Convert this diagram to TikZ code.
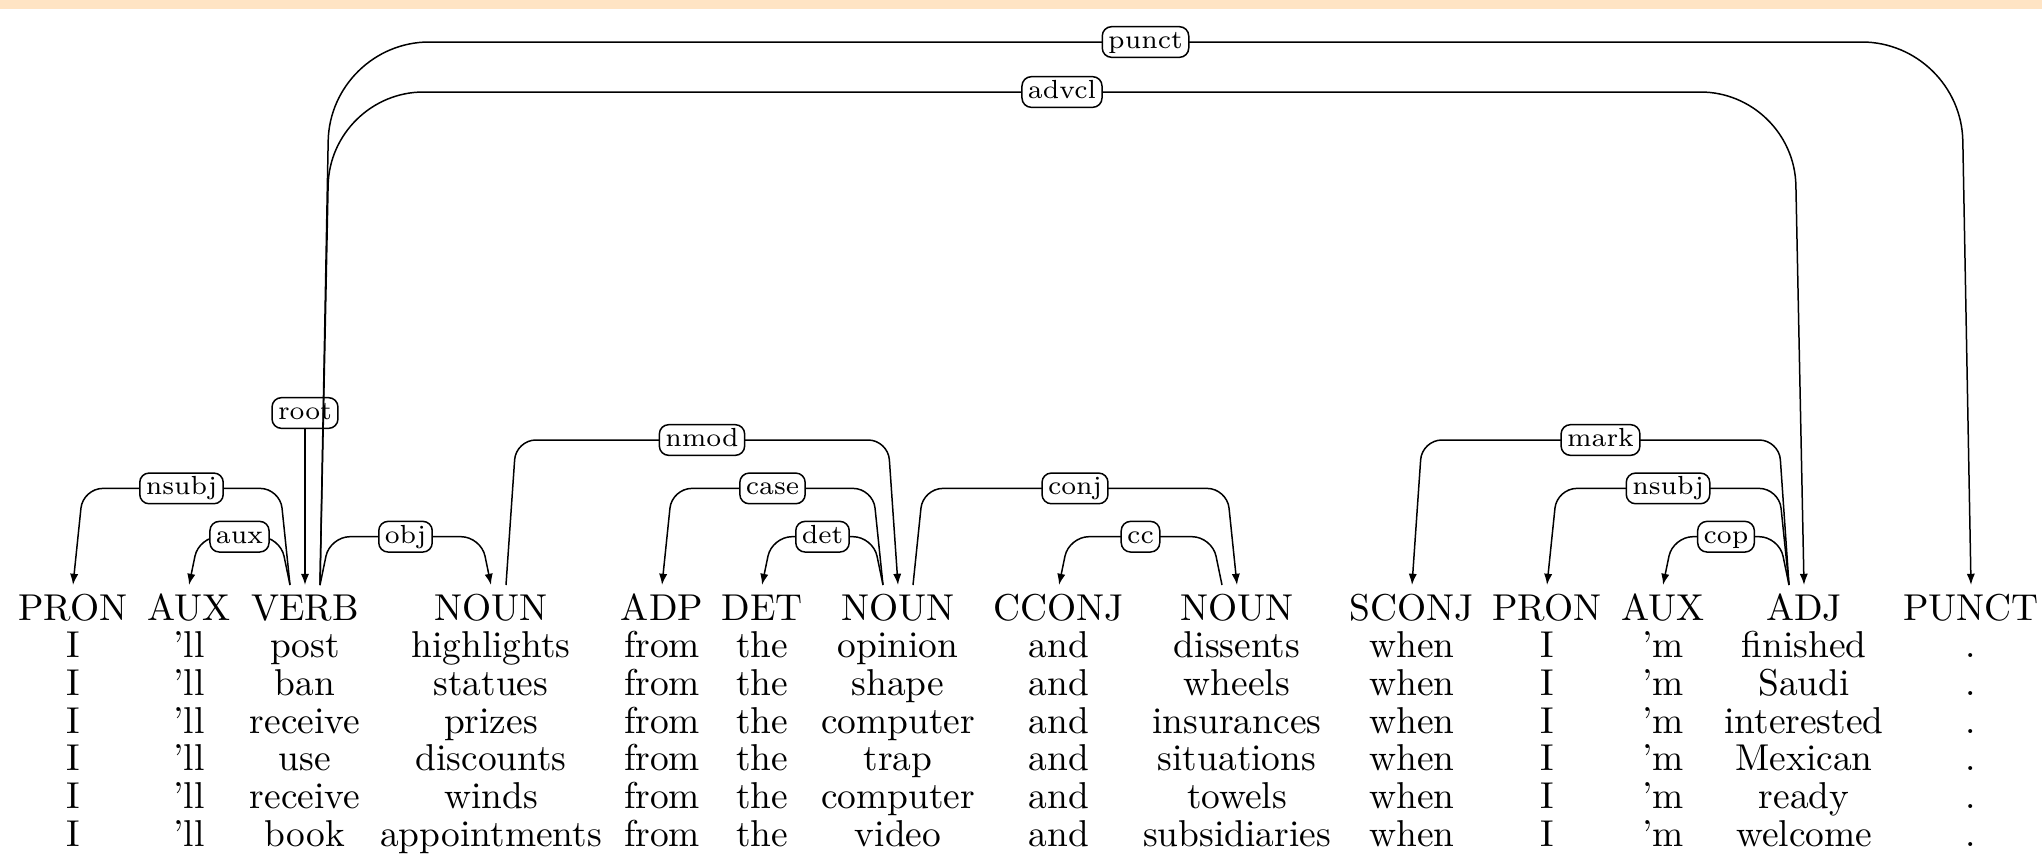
\documentclass[tikz,border=0pt]{standalone}
\usetikzlibrary{calc,arrows.meta}
\definecolor{peach}{RGB}{255,228,196}
\tikzset{
  tag/.style={inner sep=0pt, anchor=base, font=\fontsize{10}{12}\selectfont},
  word/.style={tag},
  lab/.style={draw, fill=white, rounded corners=2.5pt, inner xsep=1.6pt, inner ysep=1pt,
    text height=4.8pt, text depth=1.4pt, font=\scriptsize, line width=0.4pt},
  dedge/.style={line width=0.4pt, -{Latex[length=3pt,width=2.2pt]}},
}
% head, dependent, direction sign, height above tip (px), corner radius, label
\newcommand\mydep[6]{%
  \draw[dedge, rounded corners=#5]
    ($(#1.base)+({(#3)*15},-35)$) --
    ($(#1.base)+({(#3)*25},{-35-#4})$) -- node[lab]{#6}
    ($(#2.base)+({-1*(#3)*10},{-35-#4})$) --
    ($(#2.base)+(0,-35)$);}
\begin{document}
\begin{tikzpicture}[x=0.26738pt, y=-0.26738pt]
\useasboundingbox (0,0) rectangle (2042,854);
\fill[peach] (0,0) rectangle (2042,9);
% tags
\foreach \x/\t [count=\i] in {73/PRON,189/AUX,305/VERB,491/NOUN,662/ADP,762/DET,898/NOUN,
  1059/CCONJ,1237/NOUN,1412/SCONJ,1547/PRON,1663/AUX,1804/ADJ,1971/PUNCT}
  \node[tag] (t\i) at (\x,620) {\t};
% words
\foreach \row [count=\r] in {
  {I,’ll,post,highlights,from,the,opinion,and,dissents,when,I,’m,finished,.},
  {I,’ll,ban,statues,from,the,shape,and,wheels,when,I,’m,Saudi,.},
  {I,’ll,receive,prizes,from,the,computer,and,insurances,when,I,’m,interested,.},
  {I,’ll,use,discounts,from,the,trap,and,situations,when,I,’m,Mexican,.},
  {I,’ll,receive,winds,from,the,computer,and,towels,when,I,’m,ready,.},
  {I,’ll,book,appointments,from,the,video,and,subsidiaries,when,I,’m,welcome,.}}
  \foreach \w [count=\c] in \row
    \node[word] (w\r-\c) at ($(t\c.base)+(0,\r*37.7)$) {\w};
% root
\draw[dedge] ($(t3.base)+(0,-207)$) node[lab] (rootl) {root} -- ($(t3.base)+(0,-35)$);
% edges
\mydep{t3}{t1}{-1}{96.6}{5.3pt}{nsubj}
\mydep{t3}{t2}{-1}{48.3}{5.3pt}{aux}
\mydep{t3}{t4}{1}{48.3}{5.3pt}{obj}
\mydep{t3}{t14}{1}{543}{26.5pt}{punct}
\mydep{t3}{t13}{1}{493}{25pt}{advcl}
\mydep{t4}{t7}{1}{145}{5.3pt}{nmod}
\mydep{t7}{t5}{-1}{96.6}{5.3pt}{case}
\mydep{t7}{t6}{-1}{48.3}{5.3pt}{det}
\mydep{t7}{t9}{1}{96.6}{5.3pt}{conj}
\mydep{t9}{t8}{-1}{48.3}{5.3pt}{cc}
\mydep{t13}{t10}{-1}{145}{5.3pt}{mark}
\mydep{t13}{t11}{-1}{96.6}{5.3pt}{nsubj}
\mydep{t13}{t12}{-1}{48.3}{5.3pt}{cop}
\end{tikzpicture}
\end{document}
